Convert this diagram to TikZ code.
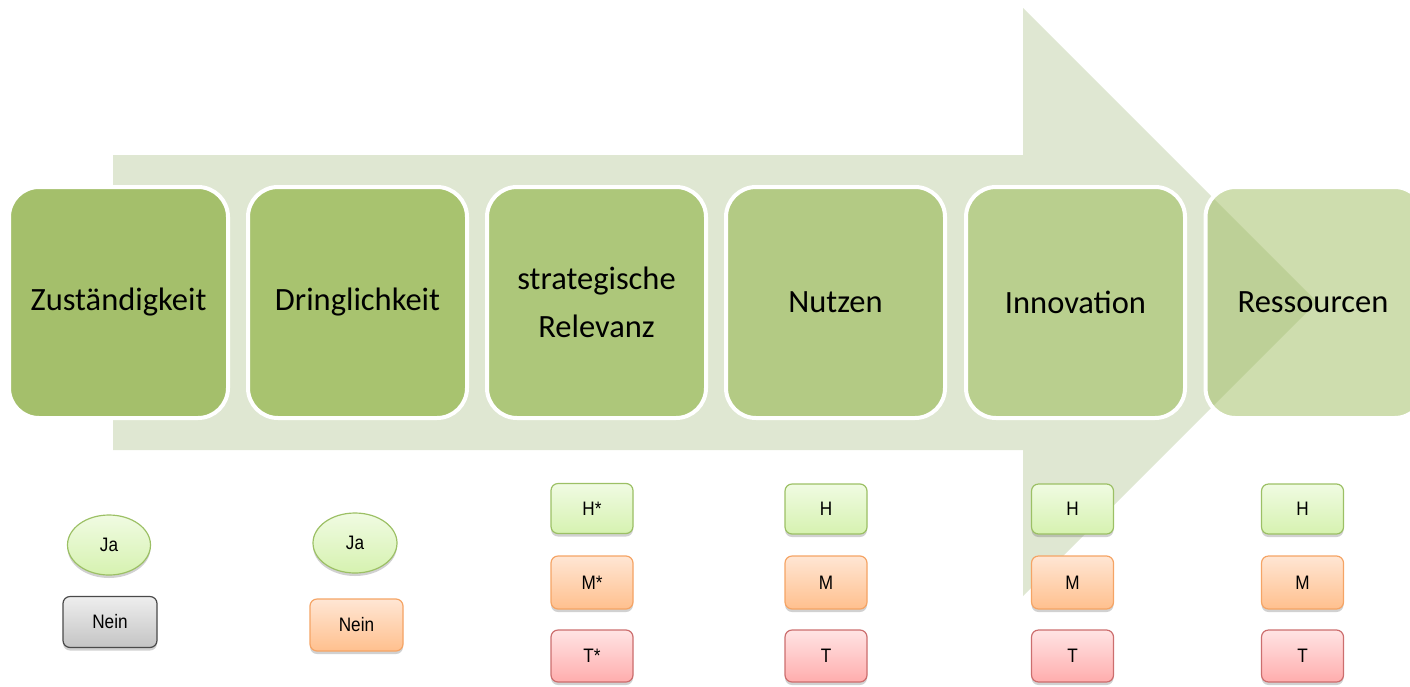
\documentclass[tikz,border=0pt]{standalone}
\usepackage{fontspec}
\setmainfont{Carlito}
\newfontfamily\smallfont[FakeStretch=0.88]{Liberation Sans}
\usetikzlibrary{shapes.geometric,shadows}
\definecolor{arrowbg}{HTML}{DFE7D2}
\definecolor{bA}{HTML}{A4BF6B}
\definecolor{bB}{HTML}{A8C36F}
\definecolor{bC}{HTML}{ADC77A}
\definecolor{bD}{HTML}{B3CA84}
\definecolor{bE}{HTML}{B9CF8E}
\definecolor{bF}{HTML}{9DBB5D}
\definecolor{gTop}{HTML}{F0FBE2}
\definecolor{gBot}{HTML}{D6F2B0}
\definecolor{gLine}{HTML}{9CC065}
\definecolor{oTop}{HTML}{FFE6D4}
\definecolor{oBot}{HTML}{FFC08E}
\definecolor{oLine}{HTML}{F5A465}
\definecolor{rTop}{HTML}{FFE4E4}
\definecolor{rBot}{HTML}{FFADAD}
\definecolor{rLine}{HTML}{CC6E6E}
\definecolor{nTop}{HTML}{EEEEEE}
\definecolor{nBot}{HTML}{C4C4C4}
\definecolor{nLine}{HTML}{4A4A4A}
\begin{document}
\begin{tikzpicture}[x=1pt,y=-1pt,
  bigbox/.style={draw=white, line width=4pt, rounded corners=30pt,
    minimum width=219pt, minimum height=231pt, inner sep=0pt,
    align=center, font=\fontsize{32.5}{48}\selectfont},
  tag/.style={rounded corners=7pt, line width=1.2pt, inner sep=0pt,
    minimum width=82pt, minimum height=50pt, shading=axis, shading angle=0,
    font=\smallfont\fontsize{19.5}{21}\selectfont,
    drop shadow={shadow xshift=0pt, shadow yshift=-3pt, opacity=0.3, fill=black!60}},
  gtag/.style={tag, draw=gLine, top color=gTop, bottom color=gBot},
  otag/.style={tag, draw=oLine, top color=oTop, bottom color=oBot},
  rtag/.style={tag, draw=rLine, top color=rTop, bottom color=rBot},
  ntag/.style={tag, draw=nLine, top color=nTop, bottom color=nBot},
  jaell/.style={ellipse, draw=gLine, line width=1.2pt, inner sep=0pt,
    minimum width=83pt, minimum height=60pt, shading=axis, shading angle=0,
    top color=gTop, bottom color=gBot,
    font=\smallfont\fontsize{19.5}{21}\selectfont,
    drop shadow={shadow xshift=0pt, shadow yshift=-3pt, opacity=0.3, fill=black!60}}
]
\useasboundingbox (0,0) rectangle (1410,686);
\clip (0,0) rectangle (1410,686);
% background arrow
\fill[arrowbg] (113,155) -- (1023,155) -- (1023,8) -- (1317,302)
  -- (1023,596) -- (1023,450) -- (113,450) -- cycle;
% main steps
\node[bigbox, fill=bA] (s1) at (118.5,302.5) {Zuständigkeit};
\node[bigbox, fill=bB] (s2) at (357.5,302.5) {Dringlichkeit};
\node[bigbox, fill=bC] (s3) at (596.5,302.5) {strategische\\Relevanz};
\node[bigbox, fill=bD] (s4) at (835.5,302.5) {Nutzen};
\node[bigbox, fill=bE] (s5) at (1075.5,302.5) {Innovation};
\node[bigbox, fill=bF, fill opacity=0.5, text opacity=1, draw opacity=1] (s6) at (1315,302.5) {\hspace*{-4pt}Ressourcen};
% column 1
\node[jaell] (ja1) at (109,545) {Ja};
\node[ntag, minimum width=94pt, minimum height=51pt] (nein1) at (110,622) {Nein};
% column 2
\node[jaell, minimum width=84pt] (ja2) at (355,543) {Ja};
\node[otag, minimum width=93pt, minimum height=52pt] (nein2) at (356.5,625) {Nein};
% column 3
\node[gtag] (h3) at (592,508.5) {H*};
\node[otag, minimum height=53pt] (m3) at (592,582.5) {M*};
\node[rtag, minimum height=52pt] (t3) at (592,656) {T*};
% column 4
\node[gtag] (h4) at (826,509) {H};
\node[otag, minimum height=53pt] (m4) at (826,582.5) {M};
\node[rtag, minimum height=52pt] (t4) at (826,656) {T};
% column 5
\node[gtag] (h5) at (1072.5,509) {H};
\node[otag, minimum height=53pt] (m5) at (1072.5,582.5) {M};
\node[rtag, minimum height=52pt] (t5) at (1072.5,656) {T};
% column 6
\node[gtag] (h6) at (1302.5,509) {H};
\node[otag, minimum height=53pt] (m6) at (1302.5,582.5) {M};
\node[rtag, minimum height=52pt] (t6) at (1302.5,656) {T};
\end{tikzpicture}
\end{document}
